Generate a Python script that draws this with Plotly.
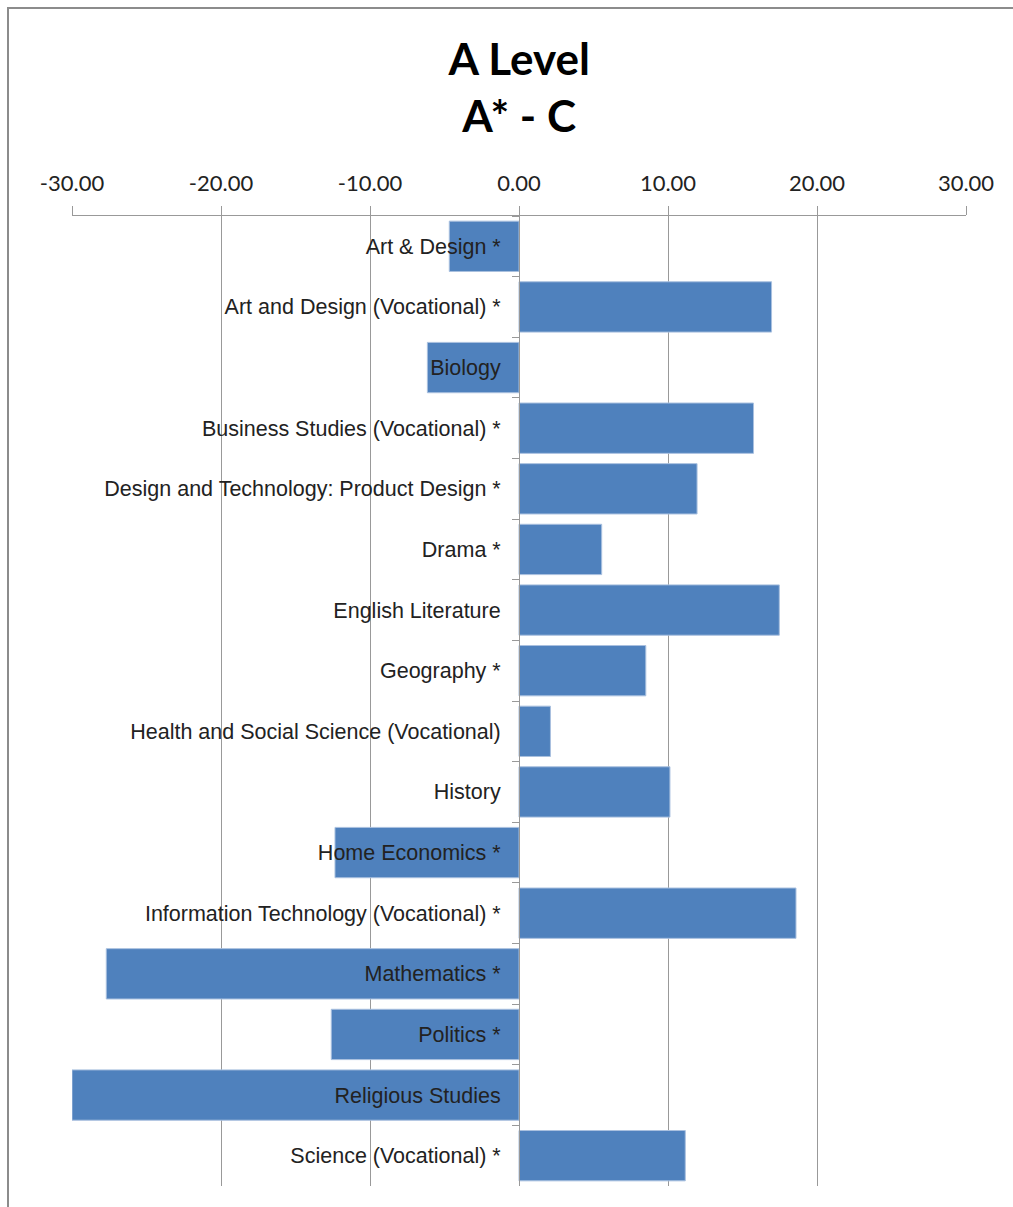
import plotly.graph_objects as go

# Subjects, top to bottom
subjects = [
    "Art & Design *",
    "Art and Design (Vocational) *",
    "Biology",
    "Business Studies (Vocational) *",
    "Design and Technology: Product Design *",
    "Drama *",
    "English Literature",
    "Geography *",
    "Health and Social Science (Vocational)",
    "History",
    "Home Economics *",
    "Information Technology (Vocational) *",
    "Mathematics *",
    "Politics *",
    "Religious Studies",
    "Science (Vocational) *",
]

# Difference in A* - C percentage
values = [-4.68, 16.95, -6.15, 15.74, 11.95, 5.55, 17.47, 8.51,
          2.11, 10.13, -12.35, 18.59, -27.7, -12.6, -30.0, 11.16]

tick_vals = [-30, -20, -10, 0, 10, 20, 30]
tick_text = ["-30.00", "-20.00", "-10.00", "0.00", "10.00", "20.00", "30.00"]

W, H = 1013, 1207
L, R, T, B = 72, 47, 216, 21
plot_w = W - L - R
plot_h = H - T - B

fig = go.Figure(
    go.Bar(
        x=values,
        y=subjects,
        orientation="h",
        marker=dict(color="#4F81BD", line=dict(color="#A9C0DF", width=1)),
        width=0.83,
        hoverinfo="x+y",
    )
)

fig.update_layout(
    width=W,
    height=H,
    margin=dict(l=L, r=R, t=T, b=B, pad=0),
    paper_bgcolor="white",
    plot_bgcolor="white",
    showlegend=False,
    title=dict(
        text="<b>A Level</b><br><b>A* - C</b>",
        x=0.5125,
        xanchor="center",
        y=1 - 75 / H,
        yanchor="middle",
        font=dict(family="Lato", size=44, color="black"),
    ),
    xaxis=dict(
        side="top",
        range=[-30, 30],
        tickvals=tick_vals,
        ticktext=tick_text,
        tickfont=dict(family="Lato", size=22, color="#222222"),
        ticks="outside",
        ticklen=9,
        tickcolor="#999999",
        showgrid=True,
        gridcolor="#999999",
        gridwidth=1,
        showline=True,
        linecolor="#999999",
        linewidth=1,
        zeroline=False,
        ticklabelstandoff=6,
    ),
    yaxis=dict(
        categoryorder="array",
        categoryarray=subjects,
        autorange="reversed",
        anchor="free",
        position=0.5,
        tickson="boundaries",
        ticks="outside",
        ticklen=7,
        tickcolor="#999999",
        tickfont=dict(family="Liberation Sans", size=21.5, color="#222222"),
        showline=True,
        linecolor="#999999",
        linewidth=1,
        showgrid=False,
        zeroline=False,
        ticklabelstandoff=14,
    ),
    shapes=[
        dict(
            type="rect",
            xref="paper",
            yref="paper",
            x0=(8 - L) / plot_w,
            x1=(W + 20 - L) / plot_w,
            y0=-(B + 20) / plot_h,
            y1=(plot_h + T - 8) / plot_h,
            line=dict(color="#8C8C8C", width=2),
            fillcolor="rgba(0,0,0,0)",
            layer="below",
        )
    ],
)

fig.write_html("out.html")
